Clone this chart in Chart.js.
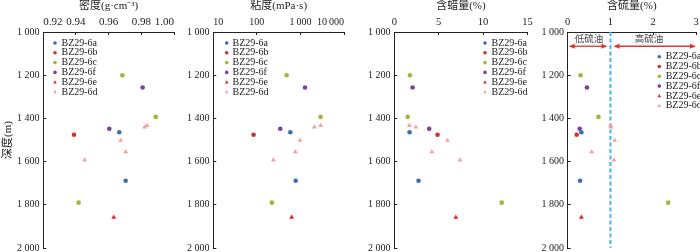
<!DOCTYPE html>
<html>
<head>
<meta charset="utf-8">
<script src="https://cdn.jsdelivr.net/npm/chart.js@4.4.1/dist/chart.umd.min.js"></script>
<style>
html, body { margin: 0; padding: 0; background: #fff; }
#wrap { position: relative; width: 700px; height: 252px; overflow: hidden; }
#wrap canvas { position: absolute; left: 0; top: 0; }
</style>
</head>
<body>
<div id="wrap">
  <canvas id="density" width="700" height="252"></canvas>
  <canvas id="viscosity" width="700" height="252"></canvas>
  <canvas id="wax" width="700" height="252"></canvas>
  <canvas id="sulfur" width="700" height="252"></canvas>
</div>
<script>
// Wells, in legend order
const seriesNames = ['BZ29-6a', 'BZ29-6b', 'BZ29-6c', 'BZ29-6f', 'BZ29-6e', 'BZ29-6d'];
const seriesColors = ['#3d6db3', '#cc3330', '#a2b536', '#7b3f9f', '#e8231f', '#f2a19e'];
const seriesShapes = ['circle', 'circle', 'circle', 'circle', 'triangle', 'triangle'];

// Sample depths (m), one list per well
const depths = [[1464, 1689], [1476], [1200, 1393, 1790], [1257, 1448], [1858], [1433, 1440, 1502, 1555, 1593]];

// Properties, same order as depths
const density = [[0.9665, 0.9704], [0.9388], [0.9684, 0.9888, 0.9416], [0.9808, 0.9604], [0.9631], [0.9835, 0.982, 0.9673, 0.9704, 0.9453]];
const viscosity = [[586, 777], [84], [483, 2900, 222], [1274, 345], [628], [2900, 2084, 977, 764, 239]];
const wax = [[1.72, 2.73], [4.87], [1.76, 1.5, 12.1], [2.06, 3.93], [6.93], [1.69, 2.43, 5.99, 4.23, 7.38]];
const sulfur = [[0.32, 0.29], [0.21], [0.30, 0.72, 2.35], [0.45, 0.28], [0.32], [1.00, 1.01, 1.10, 0.56, 1.08]];

// Tick labels
const depthTicks = [1000, 1200, 1400, 1600, 1800, 2000];
const densityTicks = [0.92, 0.94, 0.96, 0.98, 1.00];
const viscosityTicks = [10, 100, 1000, 10000];
const waxTicks = [0, 5, 10, 15];
const sulfurTicks = [0, 1, 2, 3];

// Sulfur classes
const sulfurLimit = 1;
const sulfurZones = ['低硫油', '高硫油'];
const zoneDepth = 1066;

const serif = '"Liberation Serif", "Noto Sans CJK SC", serif';
Chart.defaults.font.family = serif;
Chart.defaults.color = '#222';

// 1000 -> "1 000"
function spaced(v, sep) {
  return String(v).replace(/\B(?=(\d{3})+(?!\d))/g, sep || ' ');
}

function drawMarker(ctx, shape, x, y, r, color) {
  ctx.fillStyle = color;
  ctx.beginPath();
  if (shape === 'triangle') {
    ctx.moveTo(x, y - r * 1.1);
    ctx.lineTo(x + r, y + r * 0.7);
    ctx.lineTo(x - r, y + r * 0.7);
    ctx.closePath();
  } else {
    ctx.arc(x, y, r, 0, Math.PI * 2);
  }
  ctx.fill();
}

// Legend drawn inside the plot area
const pointLegend = {
  id: 'pointLegend',
  afterDatasetsDraw(chart, args, opts) {
    const ctx = chart.ctx;
    const area = chart.chartArea;
    ctx.save();
    ctx.font = '10px ' + serif;
    ctx.textBaseline = 'middle';
    ctx.textAlign = 'left';
    seriesNames.forEach(function(name, i) {
      const x = area.left + opts.left;
      const y = area.top + opts.top + i * opts.gap;
      drawMarker(ctx, seriesShapes[i], x, y, 1.8, seriesColors[i]);
      ctx.fillStyle = '#222';
      ctx.fillText(name, x + opts.textGap, y);
    });
    ctx.restore();
  }
};

function arrow(ctx, x1, x2, y) {
  ctx.beginPath();
  ctx.moveTo(x1 + 4, y);
  ctx.lineTo(x2 - 4, y);
  ctx.stroke();
  ctx.beginPath();
  ctx.moveTo(x1, y);
  ctx.lineTo(x1 + 6, y - 2.6);
  ctx.lineTo(x1 + 6, y + 2.6);
  ctx.closePath();
  ctx.moveTo(x2, y);
  ctx.lineTo(x2 - 6, y - 2.6);
  ctx.lineTo(x2 - 6, y + 2.6);
  ctx.closePath();
  ctx.fill();
}

// Low / high sulfur arrows
const sulfurMarks = {
  id: 'sulfurMarks',
  afterDatasetsDraw(chart) {
    const ctx = chart.ctx;
    const xs = chart.scales.x;
    const y = chart.scales.y.getPixelForValue(zoneDepth);
    const x0 = xs.getPixelForValue(sulfurTicks[0]);
    const xl = xs.getPixelForValue(sulfurLimit);
    const x3 = xs.getPixelForValue(sulfurTicks[sulfurTicks.length - 1]);
    ctx.save();
    ctx.strokeStyle = '#e5352b';
    ctx.fillStyle = '#e5352b';
    ctx.lineWidth = 1.3;
    arrow(ctx, x0 + 1, xl - 3, y);
    arrow(ctx, xl + 3, x3, y);
    ctx.font = '9.5px ' + serif;
    ctx.fillStyle = '#444';
    ctx.textAlign = 'center';
    ctx.textBaseline = 'middle';
    ctx.fillText(sulfurZones[0], (x0 + xl) / 2, y - 7);
    ctx.fillText(sulfurZones[1], xs.getPixelForValue(1.9), y - 7);
    ctx.restore();
  }
};

function buildDatasets(values) {
  return seriesNames.map(function(name, i) {
    return {
      label: name,
      data: depths[i].map(function(d, j) { return { x: values[i][j], y: d }; }),
      pointStyle: seriesShapes[i],
      pointRadius: seriesShapes[i] === 'triangle' ? 2.8 : 2.3,
      pointBackgroundColor: seriesColors[i],
      pointBorderWidth: 0,
      borderColor: seriesColors[i]
    };
  });
}

function fixBox(width, height) {
  return function(scale) {
    if (width) scale.width = width;
    if (height) scale.height = height;
    scale.paddingLeft = 0;
    scale.paddingRight = 0;
    scale.paddingTop = 0;
    scale.paddingBottom = 0;
  };
}

function makePanel(id, cfg) {
  const datasets = buildDatasets(cfg.values).concat(cfg.extra || []);
  return new Chart(document.getElementById(id), {
    type: 'scatter',
    data: { datasets: datasets },
    plugins: cfg.plugins,
    options: {
      responsive: false,
      animation: false,
      events: [],
      layout: { padding: { left: cfg.left - 43, right: 700 - cfg.right, top: 0, bottom: 3 } },
      plugins: {
        legend: { display: false },
        tooltip: { enabled: false },
        pointLegend: cfg.legend
      },
      scales: {
        x: {
          type: cfg.type || 'linear',
          position: 'top',
          min: cfg.ticks[0],
          max: cfg.ticks[cfg.ticks.length - 1],
          afterBuildTicks: function(s) { s.ticks = cfg.ticks.map(function(v) { return { value: v }; }); },
          afterFit: fixBox(0, 32),
          grid: { drawOnChartArea: false, tickLength: -3, color: '#222' },
          border: { display: true, color: '#222', width: 1 },
          ticks: {
            align: cfg.align || 'center',
            padding: 6.5,
            maxRotation: 0,
            autoSkip: false,
            font: { size: cfg.tickSize },
            callback: cfg.format
          },
          title: {
            display: true,
            text: cfg.title,
            font: { size: 11, lineHeight: 1 },
            padding: { top: 0.5, bottom: 0 }
          }
        },
        y: {
          reverse: true,
          min: depthTicks[0],
          max: depthTicks[depthTicks.length - 1],
          afterBuildTicks: function(s) { s.ticks = depthTicks.map(function(v) { return { value: v }; }); },
          afterFit: fixBox(43, 0),
          grid: { drawOnChartArea: false, tickLength: -3, color: '#222' },
          border: { display: true, color: '#222', width: 1 },
          ticks: { padding: 6.8, font: { size: 10 }, callback: function(v) { return spaced(v); } },
          title: {
            display: !!cfg.yTitle,
            text: cfg.yTitle || '',
            font: { size: 11 },
            padding: { top: 1.4, bottom: 0 }
          }
        }
      }
    }
  });
}

makePanel('density', {
  values: density,
  ticks: densityTicks,
  left: 43.3, right: 174,
  align: 'inner',
  tickSize: 11,
  title: '密度(g·cm⁻³)',
  yTitle: '深度(m)',
  format: function(v) { return Number(v).toFixed(2); },
  legend: { left: 11.7, top: 11, gap: 9.8, textGap: 6.5 },
  plugins: [pointLegend]
});

makePanel('viscosity', {
  values: viscosity,
  ticks: viscosityTicks,
  type: 'logarithmic',
  left: 213.3, right: 344,
  align: 'inner',
  tickSize: 10,
  title: '粘度(mPa·s)',
  format: function(v) { return spaced(v, '\u2009'); },
  legend: { left: 13.4, top: 11, gap: 9.8, textGap: 5.8 },
  plugins: [pointLegend]
});

makePanel('wax', {
  values: wax,
  ticks: waxTicks,
  left: 394.3, right: 527.5,
  tickSize: 10.5,
  title: '含蜡量(%)',
  format: function(v) { return String(v); },
  legend: { left: 90.7, top: 11, gap: 9.8, textGap: 6.5 },
  plugins: [pointLegend]
});

makePanel('sulfur', {
  values: sulfur,
  ticks: sulfurTicks,
  left: 567.7, right: 697,
  tickSize: 10.5,
  title: '含硫量(%)',
  format: function(v) { return String(v); },
  legend: { left: 91.6, top: 24.7, gap: 9.8, textGap: 6.4 },
  extra: [{
    type: 'line',
    label: 'limit',
    data: [{ x: sulfurLimit, y: depthTicks[0] }, { x: sulfurLimit, y: depthTicks[depthTicks.length - 1] }],
    borderColor: '#45b6e8',
    borderWidth: 2,
    borderDash: [4, 2.5],
    pointRadius: 0,
    order: 10
  }],
  plugins: [pointLegend, sulfurMarks]
});
</script>
</body>
</html>
